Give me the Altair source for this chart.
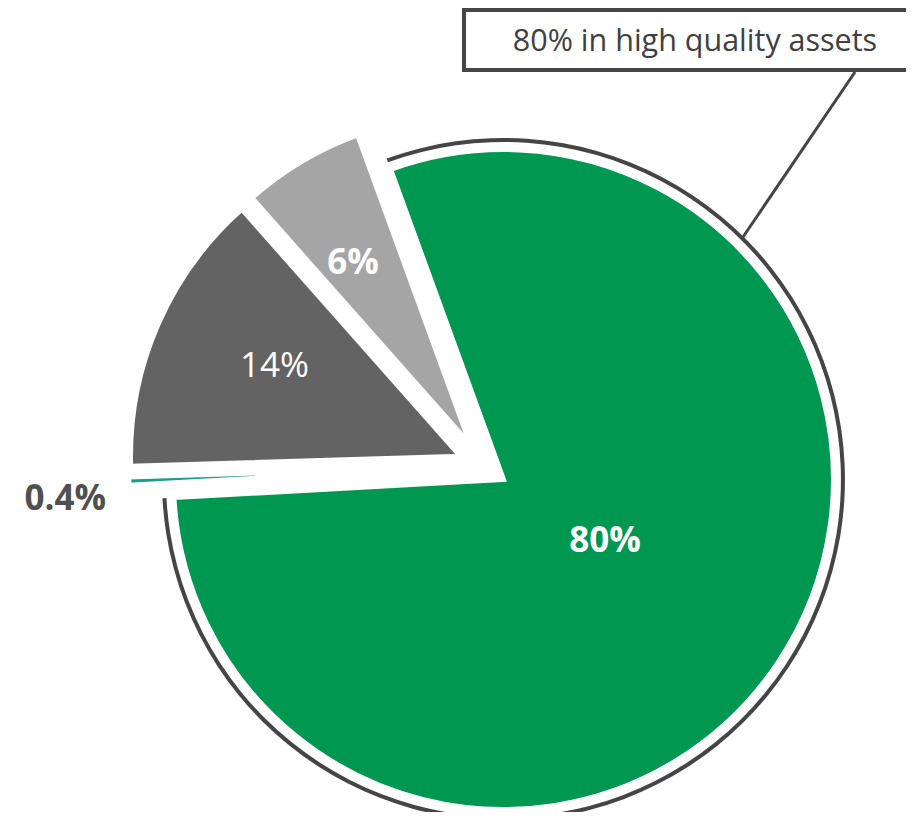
import math
import altair as alt
import pandas as pd

# ---- data ----
names = ["High quality assets", "Other 1", "Other 2", "Other 3"]
values = [80, 0.4, 14, 6]
labels = ["80%", "0.4%", "14%", "6%"]
colors = ["#009751", "#1a9c8e", "#636363", "#a5a5a5"]
callout = ["80% in high quality assets"]

# ---- layout ----
FONT = "Open Sans"
TOTAL = sum(values)
A0 = math.radians(-20)
CX, CY = 475, 458
EXPLODE = 24.5
R = 330

df = pd.DataFrame({"name": names, "value": values, "label": labels,
                   "order": list(range(len(values)))})

theta_scale = alt.Scale(domain=[0, TOTAL], range=[A0, A0 + 2 * math.pi])
color_scale = alt.Scale(domain=names, range=colors)

base = (
    alt.Chart(df)
    .transform_window(cum="sum(value)", sort=[alt.SortField("order")])
    .transform_calculate(t0="datum.cum - datum.value")
    .transform_calculate(mid="datum.cum - datum.value / 2")
    .transform_calculate(ang=f"{A0} + 2 * PI * datum.mid / {TOTAL}")
    .transform_calculate(px=f"{CX} + {EXPLODE} * sin(datum.ang)")
    .transform_calculate(py=f"{CY} - {EXPLODE} * cos(datum.ang)")
)

pos = dict(
    x=alt.X("px:Q", scale=None, axis=None),
    y=alt.Y("py:Q", scale=None, axis=None),
)

pie = base.mark_arc(radius=R, stroke="white", strokeWidth=5).encode(
    theta=alt.Theta("t0:Q", scale=theta_scale),
    theta2="cum:Q",
    color=alt.Color("name:N", scale=color_scale, legend=None),
    **pos,
)

ring = base.transform_filter(alt.datum.order == 0).mark_arc(
    radius=341.5, radius2=337.5, color="#454545"
).encode(
    theta=alt.Theta("t0:Q", scale=theta_scale),
    theta2="cum:Q",
    **pos,
)


def label_layer(i, r, weight, color, dx, dy, size=35):
    return base.transform_filter(alt.datum.order == i).mark_text(
        radius=r, font=FONT, fontSize=size, fontWeight=weight, color=color,
        align="center", baseline="middle", dx=dx, dy=dy,
    ).encode(
        theta=alt.Theta("mid:Q", scale=theta_scale),
        text="label:N",
        **pos,
    )


lab_green = label_layer(0, 117.5, "bold", "white", 3.5, -3)
lab_sliver = label_layer(1, 392, "bold", "#505050", -1.5, 15.5)
lab_dark = label_layer(2, 207, "normal", "white", 4, -8)
lab_light = label_layer(3, 218, "bold", "white", -6, 5)

ann = pd.DataFrame({"text": callout})
leader = alt.Chart(ann).mark_rule(stroke="#454545", strokeWidth=3).encode(
    x=alt.value(847), y=alt.value(64), x2=alt.value(735), y2=alt.value(229)
)
box = alt.Chart(ann).mark_rect(fill="white", stroke="#454545", strokeWidth=4).encode(
    x=alt.value(456), x2=alt.value(945), y=alt.value(2), y2=alt.value(62)
)
box_text = alt.Chart(ann).mark_text(
    font=FONT, fontSize=30.5, color="#404040", align="center", baseline="middle"
).encode(x=alt.value(687), y=alt.value(34), text="text:N")

chart = alt.layer(
    pie, ring, lab_green, lab_sliver, lab_dark, lab_light, leader, box, box_text
).properties(
    width=898, height=804, padding=0,
    autosize=alt.AutoSizeParams(type="none"),
).configure_view(strokeWidth=0)

chart.save("out.html", embed_options={"renderer": "svg", "actions": False})
